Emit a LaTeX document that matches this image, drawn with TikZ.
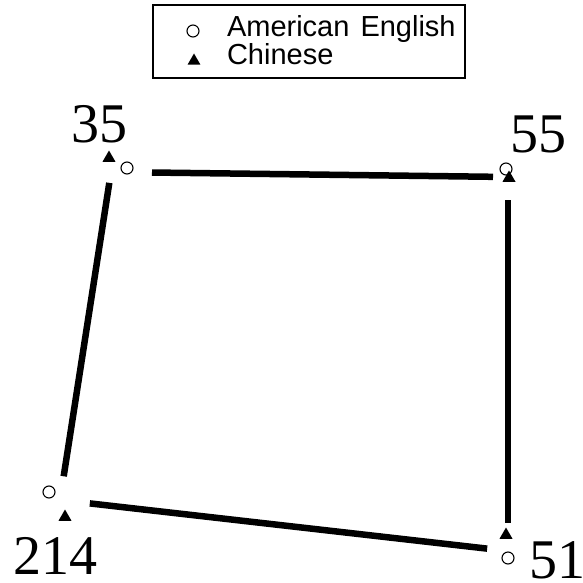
\documentclass[tikz,border=0pt]{standalone}
\usepackage{fontspec}
\setmainfont{Liberation Serif}
\setsansfont{Liberation Sans}
\usetikzlibrary{shapes.geometric,positioning}

\begin{document}
\begin{tikzpicture}[
    x=1pt, y=-1pt,
    every node/.style={inner sep=0pt, outer sep=0pt},
    amer/.style={circle, draw, line width=1.1pt, minimum size=12pt},
    chin/.style={regular polygon, regular polygon sides=3, fill=black, minimum size=15pt},
    numlabel/.style={font=\fontsize{56}{60}\selectfont},
    legtext/.style={font=\sffamily\fontsize{29}{31}\selectfont, anchor=base west},
    edge/.style={line width=6.5pt}
]
\useasboundingbox (0,0) rectangle (583,583);
% legenda
\node[draw, line width=1.2pt, minimum width=312pt, minimum height=73pt, anchor=north west] (legend) at (153,5) {};
\node[amer] (legc) at (193,31) {};
\node[chin] (legt) at (194,61) {};
\node[legtext] (legam) at (227,37) {American\hspace{3pt} English};
\node[legtext] (legch) at (227,65) {Chinese};

% angoli del quadrilatero
\coordinate (tl) at (111,172);
\coordinate (tr) at (508,177);
\coordinate (br) at (508,551);
\coordinate (bl) at (60,500);

% punti delle due lingue
\node[amer] (c35) at (127,168) {};
\node[chin] (t35) at (109,158) {};
\node[amer] (c55) at (506,169) {};
\node[chin] (t55) at (509,178) {};
\node[amer] (c214) at (49,492) {};
\node[chin] (t214) at (65,517) {};
\node[amer] (c51) at (508,558) {};
\node[chin] (t51) at (506,535) {};

\node[numlabel] (n35) at (99,124) {35};
\node[numlabel] (n55) at (538,134) {55};
\node[numlabel] (n214) at (55,556) {214};
\node[numlabel] (n51) at (557,560) {51};

\draw[edge, shorten <=41pt, shorten >=15pt] (tl) -- (tr);
\draw[edge, shorten <=23pt, shorten >=28pt] (tr) -- (br);
\draw[edge, shorten <=30pt, shorten >=21pt] (bl) -- (br);
\draw[edge, shorten <=11pt, shorten >=24pt] (tl) -- (bl);
\end{tikzpicture}
\end{document}
